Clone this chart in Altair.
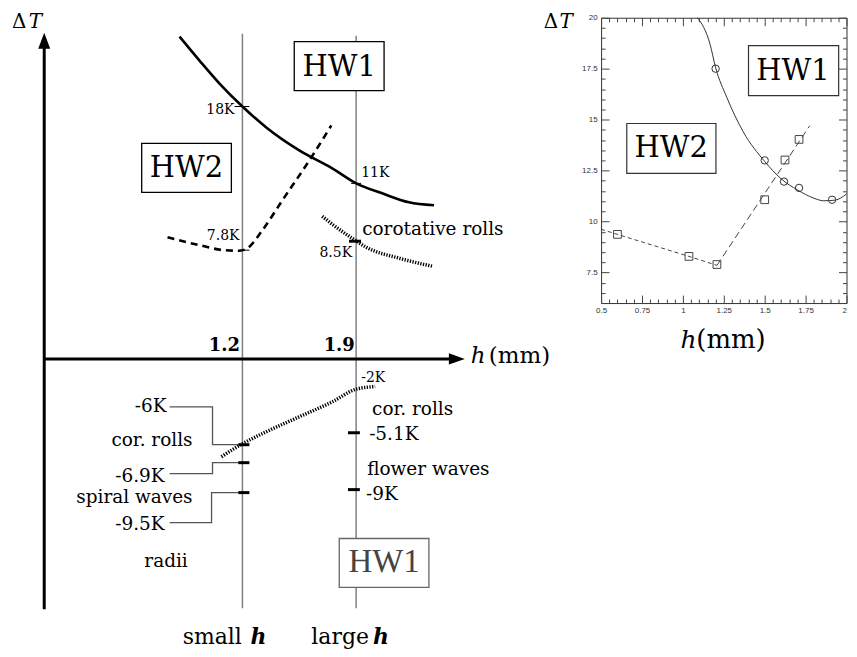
import altair as alt
import pandas as pd

SERIF = "DejaVu Serif"
SANS = "Liberation Sans"

# ================= left: schematic =================
# x = h (mm) along the schematic axis, y = schematic ΔT position (h-axis at 0)
LW, LH = 560, 641
LX = alt.Scale(domain=[-0.243, 3.196], nice=False, zero=False)
LY = alt.Scale(domain=[-29.0, 35.1], nice=False, zero=False)

hw1_h = [0.813, 0.936, 1.059, 1.2, 1.347, 1.550, 1.753, 1.900, 2.060, 2.225, 2.379]
hw1_y = [32.3, 29.9, 27.6, 25.3, 23.2, 20.9, 19.1, 17.6, 16.6, 15.7, 15.4]
hw2_h = [0.739, 0.936, 1.089, 1.182, 1.231, 1.323, 1.446, 1.624, 1.747]
hw2_y = [12.2, 11.4, 10.9, 10.85, 11.1, 12.9, 15.9, 20.2, 23.4]
corot_h = [1.691, 1.753, 1.875, 1.961, 2.164, 2.367]
corot_y = [14.3, 13.5, 12.1, 11.2, 10.1, 9.3]
neg_h = [1.071, 1.2, 1.347, 1.550, 1.753, 1.900, 2.017]
neg_y = [-9.8, -8.5, -7.3, -5.8, -4.3, -3.03, -2.77]

guide_h = [1.2, 1.9]
guide_top = [32.6, 32.4]
guide_bot = [-25.0, -25.0]

thin_x1 = [1.151, 1.869, 1.182]
thin_x2 = [1.243, 1.931, 1.243]
thin_y = [25.3, 17.6, 10.9]
thick_x1 = [1.856, 1.175, 1.175, 1.175, 1.850, 1.850]
thick_x2 = [1.930, 1.243, 1.243, 1.243, 1.923, 1.923]
thick_y = [11.8, -8.6, -10.4, -13.4, -7.4, -13.1]

conn_g = ["a"] * 4 + ["b"] * 4 + ["c"] * 4
conn_o = [0, 1, 2, 3] * 3
conn_h = [0.752, 1.016, 1.016, 1.2, 0.752, 1.016, 1.016, 1.2, 0.752, 1.010, 1.010, 1.2]
conn_y = [-4.8, -4.8, -8.6, -8.6, -11.5, -11.5, -10.4, -10.4, -16.4, -16.4, -13.4, -13.4]

box_x1 = [1.519, 0.580]
box_x2 = [2.072, 1.132]
box_y1 = [31.8, 21.6]
box_y2 = [26.9, 16.7]
box_lbl = ["HW1", "HW2"]
box_cx = [1.796, 0.856]
box_cy = [29.3, 19.1]


def ltext(labels, hs, ys, align="left", size=18.5, style="normal", weight="normal",
          color="black", font=SERIF, baseline="alphabetic"):
    df = pd.DataFrame({"h": hs, "y": ys, "t": labels})
    return alt.Chart(df).mark_text(
        align=align, baseline=baseline, fontSize=size, fontStyle=style,
        fontWeight=weight, color=color, font=font
    ).encode(x=alt.X("h:Q", scale=LX, axis=None),
             y=alt.Y("y:Q", scale=LY, axis=None), text="t:N")


def lx(f="h"):
    return alt.X(f + ":Q", scale=LX, axis=None)


def ly(f="y"):
    return alt.Y(f + ":Q", scale=LY, axis=None)


guides = alt.Chart(pd.DataFrame({"h": guide_h, "y": guide_top, "y2": guide_bot})).mark_rule(
    color="#808080", strokeWidth=1.5).encode(x=lx(), y=ly(), y2="y2:Q")

axes_df = pd.DataFrame({"h": [-0.020, -0.020], "h2": [-0.020, 2.50], "y": [-25.1, 0.0], "y2": [31.5, 0.0]})
axes_rules = alt.Chart(axes_df).mark_rule(color="black", strokeWidth=3).encode(
    x=lx(), x2="h2:Q", y=ly(), y2="y2:Q")

arrow_up = alt.Chart(pd.DataFrame({"h": [-0.020], "y": [31.9]})).mark_point(
    shape="M0,-1L0.75,1L-0.75,1Z", filled=True, size=256, color="black", opacity=1
).encode(x=lx(), y=ly())
arrow_right = alt.Chart(pd.DataFrame({"h": [2.52], "y": [0.0]})).mark_point(
    shape="M1,0L-1,0.7L-1,-0.7Z", filled=True, size=256, color="black", opacity=1
).encode(x=lx(), y=ly())

solid = alt.Chart(pd.DataFrame({"h": hw1_h, "y": hw1_y})).mark_line(
    color="black", strokeWidth=2.6, interpolate="monotone").encode(x=lx(), y=ly())
dashed = alt.Chart(pd.DataFrame({"h": hw2_h, "y": hw2_y})).mark_line(
    color="black", strokeWidth=2.6, strokeDash=[7, 5], interpolate="monotone").encode(x=lx(), y=ly())
dotted1 = alt.Chart(pd.DataFrame({"h": corot_h, "y": corot_y})).mark_line(
    color="black", strokeWidth=3.5, strokeDash=[1.3, 1.4], interpolate="monotone").encode(x=lx(), y=ly())
dotted2 = alt.Chart(pd.DataFrame({"h": neg_h, "y": neg_y})).mark_line(
    color="black", strokeWidth=3.5, strokeDash=[1.3, 1.4], interpolate="monotone").encode(x=lx(), y=ly())

thin_ticks = alt.Chart(pd.DataFrame({"h": thin_x1, "h2": thin_x2, "y": thin_y})).mark_rule(
    color="black", strokeWidth=1).encode(x=lx(), x2="h2:Q", y=ly())
thick_ticks = alt.Chart(pd.DataFrame({"h": thick_x1, "h2": thick_x2, "y": thick_y})).mark_rule(
    color="black", strokeWidth=3).encode(x=lx(), x2="h2:Q", y=ly())

connectors = alt.Chart(pd.DataFrame({"g": conn_g, "o": conn_o, "h": conn_h, "y": conn_y})).mark_line(
    color="#555555", strokeWidth=1.3).encode(x=lx(), y=ly(), detail="g:N", order="o:Q")

boxes = alt.Chart(pd.DataFrame({"h": box_x1, "h2": box_x2, "y": box_y1, "y2": box_y2})).mark_rect(
    fill="white", stroke="black", strokeWidth=1.3).encode(x=lx(), x2="h2:Q", y=ly(), y2="y2:Q")
box_bottom = alt.Chart(pd.DataFrame({"h": [1.796], "h2": [2.348], "y": [-18.0], "y2": [-22.9]})).mark_rect(
    fill="white", stroke="#666666", strokeWidth=1.3).encode(x=lx(), x2="h2:Q", y=ly(), y2="y2:Q")

box_text = ltext(box_lbl, box_cx, box_cy, align="center", baseline="middle", size=29)
box_bottom_text = ltext(["HW1"], [2.072], [-20.4], align="center", baseline="middle", size=33,
                        color="#444444", font="Liberation Serif")

k_right = ltext(["18K", "7.8K", "8.5K"], [1.151, 1.182, 1.875], [24.6, 11.9, 10.2], align="right", size=14)
k_left = ltext(["11K", "-2K"], [1.931, 1.931], [18.2, -2.3], align="left", size=14)

med_left = ltext(["corotative rolls", "cor. rolls", "-5.1K", "flower waves", "-9K"],
                 [1.937, 1.998, 1.980, 1.968, 1.961], [12.4, -5.6, -8.1, -11.6, -14.1], align="left")
med_right = ltext(["-6K", "cor. rolls", "-6.9K", "spiral waves", "-9.5K"],
                  [0.733, 0.893, 0.721, 0.893, 0.721], [-5.3, -8.7, -12.3, -14.4, -17.1], align="right")
radii = ltext(["radii"], [0.730], [-20.9], align="center")

ticklbl = ltext(["1.2", "1.9"], [1.0895, 1.796], [0.8, 0.8], align="center", size=18, weight="bold")

delta = ltext(["Δ"], [-0.218], [33.2], size=20)
tee = ltext(["T"], [-0.115], [33.2], size=20, style="italic")
h_ax = ltext(["h"], [2.606], [-0.45], size=23, style="italic")
mm_ax = ltext(["(mm)"], [2.717], [-0.45], size=23)
sl_words = ltext(["small", "large"], [0.832, 1.624], [-28.6, -28.6], size=22)
sl_h = ltext(["h", "h"], [1.249, 2.004], [-28.6, -28.6], size=22, style="italic", weight="bold")

left = alt.layer(
    guides, axes_rules, arrow_up, arrow_right, connectors, thin_ticks,
    solid, dashed, dotted1, dotted2, thick_ticks, boxes, box_bottom,
    box_text, box_bottom_text, k_right, k_left, med_left, med_right, radii,
    ticklbl, delta, tee, h_ax, mm_ax, sl_words, sl_h
).properties(width=LW, height=LH)

# ================= right: measured thresholds =================
RW, RH = 246, 286
RX = alt.Scale(domain=[0.5, 2.0], nice=False, zero=False)
RY = alt.Scale(domain=[6.0, 20.0], nice=False, zero=False)

fit_h = [1.09, 1.166, 1.2, 1.268, 1.369, 1.5, 1.6, 1.7, 1.8, 1.86, 1.93, 2.0]
fit_y = [20.0, 18.7, 17.55, 16.1, 14.4, 12.95, 12.1, 11.55, 11.15, 11.02, 11.05, 11.35]
circ_h = [1.2, 1.5, 1.618, 1.71, 1.912]
circ_y = [17.5, 13.0, 11.96, 11.65, 11.07]
sq_h = [0.6, 1.037, 1.208, 1.5, 1.624, 1.71]
sq_y = [9.37, 8.29, 7.89, 11.07, 13.02, 14.03]
d1_h = [0.5, 0.6, 1.037, 1.208]
d1_y = [9.62, 9.37, 8.29, 7.85]
d2_h = [1.208, 1.775]
d2_y = [7.85, 14.7]

RXM = [0.5, 0.75, 1.0, 1.25, 1.5, 1.75, 2.0]
RXm = [round(0.5 + 0.05 * i, 2) for i in range(31) if i % 5 != 0]
RYM = [7.5, 10.0, 12.5, 15.0, 17.5, 20.0]
RYm = [round(6.0 + 0.5 * i, 1) for i in range(1, 28) if round(6.0 + 0.5 * i, 1) not in RYM]


def lab_axis(orient, values, pad, align=None):
    kw = dict(orient=orient, values=values, format=".3~g", grid=False, domain=False,
              ticks=False, tickSize=0, labels=True, labelFont=SANS, labelFontSize=8,
              labelColor="#333333", labelPadding=pad, labelFlush=False, labelAngle=0,
              labelOverlap=False, title=None)
    if align is not None:
        kw["labelAlign"] = align
    return alt.Axis(**kw)


def tick_axis(orient, values, offset, size):
    return alt.Axis(orient=orient, values=values, grid=False, domain=False, labels=False,
                    ticks=True, tickSize=size, tickColor="#444444", tickWidth=1,
                    offset=offset, title=None)


def rx(axis):
    return alt.X("h:Q", scale=RX, axis=axis)


def ry(axis):
    return alt.Y("dT:Q", scale=RY, axis=axis)


x_align = {"condition": {"test": "datum.value >= 2", "value": "right"}, "value": "center"}

fit = alt.Chart(pd.DataFrame({"h": fit_h, "dT": fit_y})).mark_line(
    color="#333333", strokeWidth=1, interpolate="monotone"
).encode(x=rx(lab_axis("bottom", RXM, 3, x_align)), y=ry(lab_axis("left", RYM, 4)))

circ = alt.Chart(pd.DataFrame({"h": circ_h, "dT": circ_y})).mark_point(
    shape="circle", size=55, filled=False, color="#333333", strokeWidth=1, opacity=1
).encode(x=rx(tick_axis("top", RXM, -RH, 8)), y=ry(tick_axis("right", RYM, -RW, 8)))

sq = alt.Chart(pd.DataFrame({"h": sq_h, "dT": sq_y})).mark_point(
    shape="square", size=60, filled=False, color="#444444", strokeWidth=1, opacity=1
).encode(x=rx(tick_axis("top", RXm, -RH, 4)), y=ry(tick_axis("right", RYm, -RW, 4)))

d1 = alt.Chart(pd.DataFrame({"h": d1_h, "dT": d1_y})).mark_line(
    color="#444444", strokeWidth=1, strokeDash=[4, 3]
).encode(x=rx(tick_axis("bottom", RXM, -RH, 8)), y=ry(tick_axis("left", RYM, -RW, 8)))

d2 = alt.Chart(pd.DataFrame({"h": d2_h, "dT": d2_y})).mark_line(
    color="#444444", strokeWidth=1, strokeDash=[7, 4]
).encode(x=rx(tick_axis("bottom", RXm, -RH, 4)), y=ry(tick_axis("left", RYm, -RW, 4)))


def rtext(labels, hs, ys, align="left", size=18, style="normal", baseline="alphabetic"):
    df = pd.DataFrame({"h": hs, "dT": ys, "t": labels})
    return alt.Chart(df).mark_text(
        align=align, baseline=baseline, fontSize=size, fontStyle=style, font=SERIF, color="black"
    ).encode(x=rx(None), y=ry(None), text="t:N")


rboxes = alt.Chart(pd.DataFrame({"h": [1.401, 0.657], "h2": [1.952, 1.202],
                                 "dT": [18.63, 14.81], "dT2": [16.18, 12.36]})).mark_rect(
    fill="white", stroke="#333333", strokeWidth=1.2
).encode(x=rx(None), x2="h2:Q", y=ry(None), y2="dT2:Q")
rbox_text = rtext(["HW1", "HW2"], [1.673, 0.929], [17.41, 13.59], align="center", baseline="middle", size=29)
r_delta = rtext(["Δ"], [0.149], [19.51], size=20)
r_tee = rtext(["T"], [0.246], [19.51], size=20, style="italic")
r_h = rtext(["h"], [0.985], [3.8], size=25, style="italic")
r_mm = rtext(["(mm)"], [1.082], [3.8], size=26)

right = alt.layer(fit, circ, sq, d1, d2, rboxes, rbox_text, r_delta, r_tee, r_h, r_mm).resolve_axis(
    x="independent", y="independent"
).properties(width=RW, height=RH, view=alt.ViewBackground(stroke="#333333", strokeWidth=1))

# invisible spacer (no marks drawn) that pushes the right panel down
spacer = alt.Chart(pd.DataFrame({"v": [0]})).transform_filter("false").mark_point(opacity=0).encode(
    x=alt.X("v:Q", axis=None), y=alt.Y("v:Q", axis=None)
).properties(width=1, height=1)

right_col = alt.vconcat(spacer, right, spacing=8, bounds="flush")

chart = alt.hconcat(left, right_col, spacing=34.5, bounds="flush").properties(
    padding=0
).configure_view(stroke=None)

chart.save("out.html", embed_options={"renderer": "svg", "actions": False})
